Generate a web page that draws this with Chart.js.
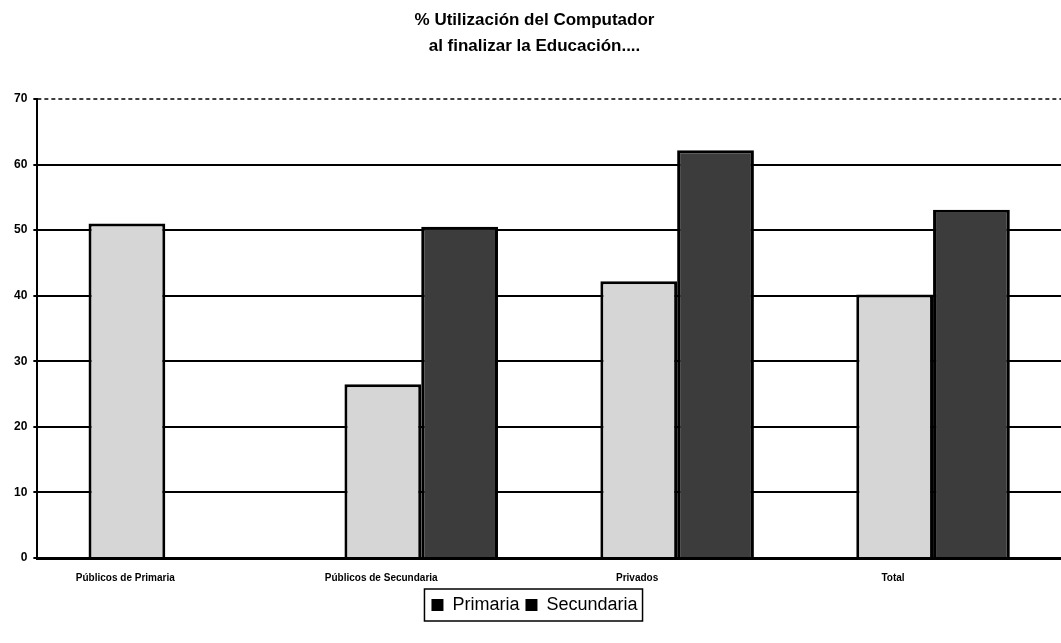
<!DOCTYPE html>
<html>
<head>
<meta charset="utf-8">
<script src="https://cdn.jsdelivr.net/npm/chart.js@4.4.1/dist/chart.umd.min.js"></script>
<style>
  body { margin: 0; background: #fff; }
  #wrap { width: 1061px; height: 643px; }
</style>
</head>
<body>
<div id="wrap"><canvas id="chart" width="1061" height="643"></canvas></div>
<script>
// Data
const categories = ['Públicos de Primaria', 'Públicos de Secundaria', 'Privados', 'Total'];
const primaria = [51, 26.5, 42.2, 40.2];
const secundaria = [null, 50.5, 62.2, 53.1];
const titleLines = ['% Utilización del Computador', 'al finalizar la Educación....'];

// dashed top gridline + box around the legend items
const extras = {
    id: 'extras',
    afterDraw(chart) {
        const c = chart.ctx;
        const y = chart.scales.y;
        const area = chart.chartArea;
        const top = y.getPixelForValue(y.max);
        c.save();
        c.strokeStyle = '#000';
        c.lineWidth = 1.5;
        c.setLineDash([4, 3]);
        c.beginPath();
        c.moveTo(area.left, top);
        c.lineTo(area.right, top);
        c.stroke();
        c.setLineDash([]);
        const boxes = chart.legend.legendHitBoxes;
        if (boxes && boxes.length) {
            const x0 = Math.min(...boxes.map(b => b.left)) - 7;
            const x1 = Math.max(...boxes.map(b => b.left + b.width)) + 5;
            const y0 = Math.min(...boxes.map(b => b.top)) - 7;
            const y1 = Math.max(...boxes.map(b => b.top + b.height)) + 7;
            c.lineWidth = 1.5;
            c.strokeRect(x0, y0, x1 - x0, y1 - y0);
        }
        c.restore();
    }
};

const ctx = document.getElementById('chart').getContext('2d');
const chart = new Chart(ctx, {
    type: 'bar',
    data: {
        labels: categories,
        datasets: [{
            label: 'Primaria',
            data: primaria,
            backgroundColor: '#d6d6d6',
            borderColor: '#000',
            borderWidth: 3
        }, {
            label: 'Secundaria',
            data: secundaria,
            backgroundColor: '#3c3c3c',
            borderColor: '#000',
            borderWidth: 3
        }]
    },
    plugins: [extras],
    options: {
        responsive: false,
        animation: false,
        layout: { padding: { left: 8, right: 0, top: 8, bottom: 19 } },
        datasets: { bar: { categoryPercentage: 0.6, barPercentage: 1.0 } },
        plugins: {
            title: {
                display: true,
                text: titleLines,
                color: '#000',
                font: { family: 'Liberation Sans', size: 17, weight: 'bold', lineHeight: 1.5 },
                padding: { top: 0, bottom: 40 }
            },
            legend: {
                position: 'bottom',
                labels: {
                    color: '#000',
                    font: { family: 'Liberation Sans', size: 18 },
                    boxWidth: 12,
                    boxHeight: 12,
                    padding: 6,
                    generateLabels(chart) {
                        return chart.data.datasets.map((ds, i) => ({
                            text: ds.label,
                            fillStyle: '#000',
                            strokeStyle: '#000',
                            lineWidth: 0,
                            fontColor: '#000',
                            datasetIndex: i
                        }));
                    }
                }
            },
            tooltip: { enabled: false }
        },
        scales: {
            x: {
                grid: { display: false },
                border: { display: true, color: '#000', width: 3 },
                ticks: {
                    color: '#000',
                    font: { family: 'Liberation Sans', size: 10, weight: 'bold' },
                    labelOffset: -40,
                    padding: 6,
                    maxRotation: 0
                }
            },
            y: {
                min: 0,
                max: 70,
                ticks: {
                    stepSize: 10,
                    color: '#000',
                    font: { family: 'Liberation Sans', size: 12, weight: 'bold' },
                    padding: 6
                },
                grid: {
                    color: ctx => ctx.tick && ctx.tick.value === 70 ? 'rgba(0,0,0,0)' : '#000',
                    lineWidth: 2,
                    tickLength: 4,
                    tickColor: '#000'
                },
                border: { display: true, color: '#000', width: 2 }
            }
        }
    }
});
</script>
</body>
</html>
